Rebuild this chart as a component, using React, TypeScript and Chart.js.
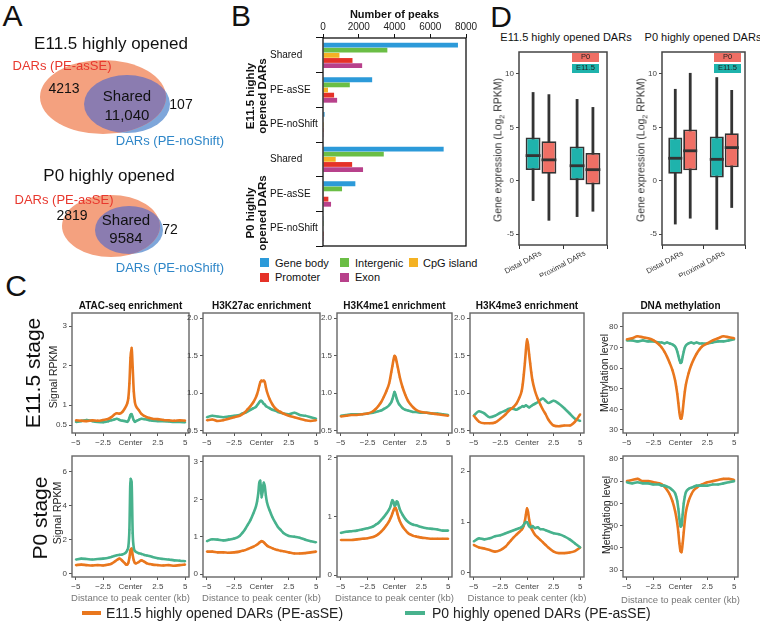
import React, { useEffect, useRef } from "react";
import { Chart, registerables } from "chart.js";
Chart.register(...registerables);

const FONT = "'Liberation Sans', Arial, Helvetica, sans-serif";
Chart.defaults.font.family = FONT;

// ---------------- Panel A data ----------------
const vennE115Counts = [4213, 11040, 107];
const vennP0Counts = [2819, 9584, 72];
const vennTitles = ["E11.5 highly opened", "P0 highly opened"];
const vennSetNames = ["DARs (PE-asSE)", "DARs (PE-noShift)"];

// ---------------- Panel B data ----------------
const bCategories = ["Shared", "PE-asSE", "PE-noShift", "Shared", "PE-asSE", "PE-noShift"];
const bGroups = ["E11.5 highly\nopened DARs", "P0 highly\nopened DARs"];
const bFeatures = ["Gene body", "Intergenic", "CpG island", "Promoter", "Exon"];
const bGeneBody = [7550, 2750, 90, 6750, 1810, 40];
const bIntergenic = [3600, 1500, 25, 3400, 1065, 12];
const bCpG = [920, 280, 6, 710, 15, 0];
const bPromoter = [1650, 620, 12, 1630, 300, 6];
const bExon = [2190, 790, 18, 2240, 450, 9];
const bTicks = [0, 2000, 4000, 6000, 8000];

// ---------------- Panel D data (min, q1, median, q3, max) ----------------
const dCategories = ["Distal DARs", "Proximal DARs"];
const dSeries = ["E11.5", "P0"];
const dE11Dars_E115 = [[-1.9, 1.0, 2.35, 4.05, 8.3], [-3.4, 0.0, 1.4, 3.2, 7.65]];
const dE11Dars_P0 = [[-3.75, 0.65, 1.95, 3.7, 8.1], [-2.9, -0.37, 1.03, 2.6, 6.9]];
const dP0Dars_E115 = [[-4.1, 0.65, 2.1, 4.05, 8.6], [-4.6, 0.3, 2.0, 4.15, 9.7]];
const dP0Dars_P0 = [[-3.55, 0.97, 2.8, 4.8, 10.1], [-2.55, 1.25, 3.1, 4.45, 8.5]];
const dYTicks = [-5, 0, 5, 10];
const dYLabels = ["-5", "0", "5", "10"];

// ---------------- Panel C data ----------------
const X_KB = [-5, -4.5, -4, -3.5, -3, -2.5, -2, -1.75, -1.5, -1.25, -1, -0.75, -0.5, -0.4, -0.3, -0.2, -0.1, 0, 0.1, 0.2, 0.3, 0.4, 0.5, 0.75, 1, 1.25, 1.5, 1.75, 2, 2.5, 3, 3.5, 4, 4.5, 5];
const xTickVals = [-5, -2.5, 0, 2.5, 5];
const xTickLabels = ["\u22125", "\u22122.5", "Center", "2.5", "5"];

const atacE11_orange = [0.62, 0.61, 0.60, 0.62, 0.61, 0.63, 0.66, 0.70, 0.76, 0.80, 0.79, 0.83, 0.93, 0.98, 1.05, 1.18, 1.55, 2.20, 2.45, 1.95, 1.35, 1.08, 0.98, 0.88, 0.78, 0.73, 0.70, 0.68, 0.66, 0.65, 0.63, 0.62, 0.61, 0.62, 0.61];
const atacE11_green = [0.58, 0.60, 0.63, 0.60, 0.58, 0.57, 0.60, 0.62, 0.64, 0.66, 0.63, 0.61, 0.60, 0.59, 0.58, 0.61, 0.68, 0.76, 0.78, 0.70, 0.62, 0.58, 0.60, 0.63, 0.66, 0.65, 0.64, 0.62, 0.61, 0.60, 0.60, 0.59, 0.58, 0.58, 0.57];
const k27E11_orange = [0.64, 0.65, 0.63, 0.64, 0.66, 0.68, 0.70, 0.72, 0.75, 0.79, 0.83, 0.88, 0.95, 0.99, 1.04, 1.10, 1.15, 1.17, 1.16, 1.17, 1.15, 1.08, 1.02, 0.92, 0.85, 0.80, 0.77, 0.75, 0.73, 0.70, 0.68, 0.66, 0.64, 0.63, 0.64];
const k27E11_green = [0.68, 0.70, 0.69, 0.68, 0.69, 0.70, 0.71, 0.73, 0.74, 0.76, 0.78, 0.80, 0.82, 0.84, 0.86, 0.88, 0.90, 0.90, 0.88, 0.86, 0.85, 0.83, 0.82, 0.80, 0.78, 0.77, 0.75, 0.74, 0.73, 0.72, 0.74, 0.71, 0.70, 0.68, 0.66];
const me1E11_orange = [0.69, 0.70, 0.71, 0.71, 0.72, 0.73, 0.76, 0.79, 0.83, 0.88, 0.95, 1.03, 1.13, 1.20, 1.28, 1.36, 1.44, 1.50, 1.48, 1.42, 1.35, 1.28, 1.21, 1.08, 0.98, 0.90, 0.85, 0.81, 0.78, 0.75, 0.74, 0.73, 0.72, 0.71, 0.70];
const me1E11_green = [0.70, 0.71, 0.72, 0.72, 0.72, 0.73, 0.74, 0.75, 0.76, 0.77, 0.79, 0.81, 0.84, 0.86, 0.88, 0.92, 0.97, 1.02, 0.98, 0.93, 0.89, 0.86, 0.84, 0.80, 0.78, 0.77, 0.76, 0.75, 0.75, 0.74, 0.74, 0.73, 0.73, 0.72, 0.71];
const me3E11_orange = [0.70, 0.62, 0.60, 0.60, 0.61, 0.66, 0.72, 0.76, 0.79, 0.82, 0.86, 0.93, 1.03, 1.12, 1.25, 1.40, 1.58, 1.72, 1.65, 1.52, 1.40, 1.28, 1.18, 1.03, 0.93, 0.85, 0.78, 0.72, 0.65, 0.57, 0.56, 0.57, 0.57, 0.62, 0.72];
const me3E11_green = [0.70, 0.76, 0.73, 0.68, 0.70, 0.74, 0.77, 0.79, 0.80, 0.79, 0.78, 0.80, 0.82, 0.83, 0.82, 0.83, 0.84, 0.83, 0.82, 0.81, 0.82, 0.83, 0.84, 0.86, 0.88, 0.91, 0.93, 0.90, 0.87, 0.90, 0.86, 0.80, 0.73, 0.66, 0.63];
const methE11_orange = [74, 74.5, 75.5, 75, 74.5, 73.5, 71.5, 70, 68, 65.5, 62.5, 59, 54, 51, 47.5, 43, 38.5, 35.5, 35.5, 39, 44, 48.5, 52, 57.5, 61.5, 64.5, 67, 69, 70.5, 72, 73.5, 74.5, 75.5, 75, 74.5];
const methE11_green = [73.5, 73.5, 73, 73.5, 73, 73, 72.5, 72.5, 72, 72.5, 72, 71.5, 70.5, 69.5, 68, 66, 64, 62.5, 63, 65.5, 68, 70, 71, 72, 72.5, 72, 72.5, 72, 72, 72, 72.5, 73, 73, 73.5, 74];
const atacP0_orange = [0.52, 0.55, 0.52, 0.50, 0.52, 0.50, 0.55, 0.60, 0.70, 0.82, 0.90, 0.78, 0.62, 0.55, 0.55, 0.65, 0.95, 1.40, 1.50, 1.10, 0.80, 0.65, 0.62, 0.70, 0.80, 0.72, 0.62, 0.58, 0.55, 0.52, 0.50, 0.52, 0.48, 0.52, 0.55];
const atacP0_green = [0.85, 0.90, 0.88, 0.85, 0.88, 0.90, 0.95, 1.00, 1.05, 1.10, 1.12, 1.15, 1.22, 1.28, 1.40, 1.60, 2.60, 5.60, 5.40, 2.40, 1.55, 1.35, 1.30, 1.22, 1.18, 1.12, 1.08, 1.05, 1.00, 0.92, 0.88, 0.85, 0.80, 0.78, 0.75];
const k27P0_orange = [0.60, 0.60, 0.58, 0.58, 0.57, 0.58, 0.60, 0.62, 0.64, 0.67, 0.70, 0.73, 0.77, 0.79, 0.81, 0.84, 0.86, 0.88, 0.87, 0.85, 0.82, 0.79, 0.76, 0.72, 0.69, 0.66, 0.64, 0.62, 0.61, 0.58, 0.55, 0.55, 0.56, 0.58, 0.60];
const k27P0_green = [0.88, 0.93, 0.92, 0.90, 0.92, 0.95, 1.02, 1.10, 1.20, 1.32, 1.45, 1.62, 1.82, 1.95, 2.15, 2.45, 2.50, 2.05, 2.20, 2.45, 2.35, 2.10, 1.92, 1.70, 1.52, 1.38, 1.26, 1.18, 1.10, 1.02, 1.00, 0.97, 0.92, 0.88, 0.85];
const me1P0_orange = [0.60, 0.60, 0.60, 0.61, 0.62, 0.63, 0.65, 0.67, 0.70, 0.74, 0.79, 0.85, 0.92, 0.96, 1.00, 1.05, 1.10, 1.14, 1.15, 1.10, 1.03, 0.97, 0.92, 0.83, 0.77, 0.72, 0.69, 0.67, 0.66, 0.64, 0.63, 0.62, 0.62, 0.62, 0.62];
const me1P0_green = [0.72, 0.74, 0.75, 0.76, 0.78, 0.80, 0.83, 0.86, 0.89, 0.94, 0.99, 1.05, 1.12, 1.16, 1.22, 1.28, 1.25, 1.18, 1.20, 1.26, 1.24, 1.18, 1.12, 1.03, 0.96, 0.91, 0.88, 0.86, 0.85, 0.82, 0.80, 0.79, 0.78, 0.76, 0.76];
const me3P0_orange = [0.55, 0.50, 0.48, 0.45, 0.42, 0.45, 0.52, 0.58, 0.64, 0.70, 0.75, 0.80, 0.85, 0.88, 0.93, 1.02, 1.15, 1.27, 1.20, 1.05, 0.95, 0.88, 0.84, 0.75, 0.70, 0.65, 0.60, 0.55, 0.50, 0.42, 0.39, 0.39, 0.40, 0.43, 0.50];
const me3P0_green = [0.62, 0.68, 0.66, 0.68, 0.72, 0.74, 0.78, 0.80, 0.82, 0.84, 0.86, 0.88, 0.90, 0.92, 0.95, 0.98, 1.00, 1.00, 0.96, 0.92, 0.90, 0.90, 0.92, 0.88, 0.90, 0.86, 0.86, 0.84, 0.82, 0.78, 0.76, 0.72, 0.66, 0.58, 0.50];
const methP0_orange = [70, 70.5, 71, 70, 70, 69.5, 69, 68.5, 67.5, 66, 64, 61, 56.5, 54, 51, 47, 42, 38.5, 38, 42, 47, 52, 56, 61, 64, 66, 67, 68, 68.5, 69.5, 70, 70.5, 71, 71, 70.5];
const methP0_green = [69.5, 69, 69.5, 69, 69, 68.5, 68.5, 68, 68, 67.5, 67, 66, 64.5, 63, 61, 57.5, 53, 49.5, 50, 55, 60, 63, 65, 66.5, 67, 67.5, 68, 68, 68, 68, 68.5, 68.5, 69, 69.5, 70];

const yTicksAtacE11 = [0.5, 1, 2, 3];
const yLabelsAtacE11 = ["0.5", "1", "2", "3"];
const yTicksHistE11 = [0.5, 1, 1.5, 2];
const yLabelsHistE11 = ["0.5", "1.0", "1.5", "2.0"];
const yTicksMeth = [30, 40, 50, 60, 70, 80];
const yLabelsMeth = ["30", "40", "50", "60", "70", "80"];
const yTicksAtacP0 = [0, 2, 4, 6];
const yTicksK27P0 = [0, 1, 2, 3];
const yTicksK4P0 = [0, 1, 2];

const cTitles = ["ATAC-seq enrichment", "H3K27ac enrichment", "H3K4me1 enrichment", "H3K4me3 enrichment", "DNA methylation"];
const legendLabels = ["E11.5 highly opened DARs (PE-asSE)", "P0 highly opened DARs (PE-asSE)"];

// ---------------- styles ----------------
const ORANGE = "#E9771E";
const GREEN = "#48B28D";
const TEAL = "#1FB3AC";
const SALMON = "#EF6F65";
const B_COLORS = ["#2C9AD9", "#6BBE45", "#F4B223", "#E53228", "#B8418B"];

const framePlugin = (color: string, width: number) => ({
  id: "frame",
  afterDraw(chart: any) {
    const a = chart.chartArea;
    const ctx = chart.ctx;
    ctx.save();
    ctx.strokeStyle = color;
    ctx.lineWidth = width;
    ctx.strokeRect(a.left, a.top, a.right - a.left, a.bottom - a.top);
    ctx.restore();
  },
});

function ChartBox({ x, y, w, h, make }: { x: number; y: number; w: number; h: number; make: () => any }) {
  const ref = useRef<HTMLCanvasElement | null>(null);
  useEffect(() => {
    if (!ref.current) return;
    const chart = new Chart(ref.current, make());
    return () => chart.destroy();
  }, []);
  return <canvas ref={ref} width={w} height={h} style={{ position: "absolute", left: x, top: y, width: w, height: h }} />;
}

function Txt(props: { x: number; y: number; s: number; c?: string; b?: boolean; rot?: number; lh?: number; left?: boolean; children: any }) {
  const { x, y, s, c = "#111", b = false, rot = 0, lh = 1, left = false, children } = props;
  return (
    <div
      style={{
        position: "absolute",
        left: x,
        top: y,
        transform: `translate(${left ? "0" : "-50%"},-50%) rotate(${rot}deg)`,
        fontSize: s,
        color: c,
        fontWeight: b ? 700 : 400,
        whiteSpace: "pre",
        lineHeight: lh,
        textAlign: "center",
        fontFamily: FONT,
      }}
    >
      {children}
    </div>
  );
}

const fmtCount = (n: number) => (n >= 10000 ? n.toLocaleString("en-US") : String(n));

// ---------------- chart configs ----------------
function vennCfg() {
  const sets = [
    { o: [103, 97, 63, 37], b: [127, 104, 43, 29] },
    { o: [111, 226, 49, 31], b: [129, 230, 34, 24] },
  ];
  return {
    type: "scatter",
    data: { datasets: [] },
    options: {
      animation: false,
      responsive: false,
      events: [],
      layout: { padding: 0 },
      plugins: { legend: { display: false }, tooltip: { enabled: false } },
      scales: {
        x: { type: "linear", min: 0, max: 235, display: false },
        y: { type: "linear", min: 0, max: 280, reverse: true, display: false },
      },
    },
    plugins: [
      {
        id: "venn",
        afterDraw(chart: any) {
          const ctx = chart.ctx;
          const xs = chart.scales.x;
          const ys = chart.scales.y;
          const path = (e: number[]) => {
            const px = xs.getPixelForValue(e[0]);
            const py = ys.getPixelForValue(e[1]);
            const rx = Math.abs(xs.getPixelForValue(e[0] + e[2]) - px);
            const ry = Math.abs(ys.getPixelForValue(e[1] + e[3]) - py);
            ctx.beginPath();
            ctx.ellipse(px, py, rx, ry, 0, 0, Math.PI * 2);
          };
          sets.forEach((s) => {
            ctx.save();
            path(s.b);
            ctx.fillStyle = "#7EA6DA";
            ctx.fill();
            path(s.o);
            ctx.fillStyle = "#F4A17F";
            ctx.fill();
            path(s.o);
            ctx.clip();
            path(s.b);
            ctx.fillStyle = "#8B7CB0";
            ctx.fill();
            ctx.restore();
          });
        },
      },
    ],
  };
}

function barCfg() {
  const series = [bGeneBody, bIntergenic, bCpG, bPromoter, bExon];
  return {
    type: "bar",
    data: {
      labels: bCategories,
      datasets: series.map((d, i) => ({
        label: bFeatures[i],
        data: d,
        backgroundColor: B_COLORS[i],
        borderWidth: 0,
        categoryPercentage: 0.74,
        barPercentage: 0.94,
      })),
    },
    options: {
      indexAxis: "y",
      animation: false,
      responsive: false,
      events: [],
      layout: { padding: { top: 8, right: 16, bottom: 8, left: 0 } },
      plugins: { legend: { display: false }, tooltip: { enabled: false } },
      scales: {
        x: {
          position: "top",
          min: 0,
          max: 8000,
          afterBuildTicks: (s: any) => {
            s.ticks = bTicks.map((v) => ({ value: v }));
          },
          ticks: { font: { size: 10 }, color: "#222", padding: 1, maxRotation: 0, autoSkip: false, callback: (_v: any, i: number) => String(bTicks[i]) },
          grid: { drawOnChartArea: false, tickLength: 4, color: "#111" },
          border: { display: false },
          title: { display: true, text: "Number of peaks", font: { size: 11, weight: "bold" }, color: "#111", padding: 0 },
          afterFit: (s: any) => {
            s.height = 30;
          },
        },
        y: {
          ticks: { crossAlign: "far", font: { size: 10 }, color: "#111", autoSkip: false },
          grid: { offset: true, drawOnChartArea: false, tickLength: 7, color: "#111" },
          border: { display: false },
          afterFit: (s: any) => {
            s.width = 53;
          },
        },
      },
    },
    plugins: [framePlugin("#111", 1.3)],
  };
}

function boxCfg(e115: number[][], p0: number[][]) {
  const boxes = [e115, p0];
  const cols = [TEAL, SALMON];
  return {
    type: "bar",
    data: {
      labels: dCategories,
      datasets: boxes.map((b, i) => ({
        label: dSeries[i],
        data: b.map((s) => [s[1], s[3]]),
        backgroundColor: cols[i],
        borderColor: "#333",
        borderWidth: 1.8,
        borderSkipped: false,
        categoryPercentage: 0.72,
        barPercentage: 0.94,
      })),
    },
    options: {
      animation: false,
      responsive: false,
      events: [],
      layout: { padding: { top: 8, right: 8, bottom: 0, left: 0 } },
      plugins: { legend: { display: false }, tooltip: { enabled: false } },
      scales: {
        x: {
          ticks: { font: { size: 7.5 }, color: "#333", minRotation: 28, maxRotation: 28, padding: 0, autoSkip: false },
          grid: { offset: true, drawOnChartArea: false, tickLength: 4, color: "#333" },
          border: { display: false },
          afterFit: (s: any) => {
            s.height = 32;
          },
        },
        y: {
          min: -6.03,
          max: 12.06,
          afterBuildTicks: (s: any) => {
            s.ticks = dYTicks.map((v) => ({ value: v }));
          },
          ticks: { font: { size: 8 }, color: "#444", padding: 2, callback: (_v: any, i: number) => dYLabels[i] },
          grid: { drawOnChartArea: false, tickLength: 3, color: "#444" },
          border: { display: false },
          afterFit: (s: any) => {
            s.width = 26;
          },
        },
      },
    },
    plugins: [
      {
        id: "whiskers",
        beforeDatasetsDraw(chart: any) {
          const ctx = chart.ctx;
          const ys = chart.scales.y;
          ctx.save();
          ctx.strokeStyle = "#333";
          ctx.lineWidth = 2.8;
          boxes.forEach((b, di) => {
            chart.getDatasetMeta(di).data.forEach((el: any, i: number) => {
              ctx.beginPath();
              ctx.moveTo(el.x, ys.getPixelForValue(b[i][0]));
              ctx.lineTo(el.x, ys.getPixelForValue(b[i][4]));
              ctx.stroke();
            });
          });
          ctx.restore();
        },
        afterDatasetsDraw(chart: any) {
          const ctx = chart.ctx;
          const ys = chart.scales.y;
          ctx.save();
          ctx.strokeStyle = "#333";
          ctx.lineWidth = 2.8;
          boxes.forEach((b, di) => {
            chart.getDatasetMeta(di).data.forEach((el: any, i: number) => {
              const py = ys.getPixelForValue(b[i][2]);
              ctx.beginPath();
              ctx.moveTo(el.x - el.width / 2, py);
              ctx.lineTo(el.x + el.width / 2, py);
              ctx.stroke();
            });
          });
          ctx.restore();
        },
      },
      framePlugin("#444", 1.5),
    ],
  };
}

function lineCfg(orange: number[], green: number[], yMin: number, yMax: number, yTicks: number[], yLabels: string[], greenOnTop: boolean) {
  const ds = (arr: number[], color: string) => ({
    data: X_KB.map((x, i) => ({ x, y: arr[i] })),
    borderColor: color,
    backgroundColor: color,
    borderWidth: 2.6,
    pointRadius: 1.1,
    pointBorderWidth: 0,
    cubicInterpolationMode: "monotone",
    fill: false,
  });
  const o = ds(orange, ORANGE);
  const g = ds(green, GREEN);
  return {
    type: "line",
    data: { datasets: greenOnTop ? [g, o] : [o, g] },
    options: {
      animation: false,
      responsive: false,
      events: [],
      layout: { padding: { top: 8, right: 8, bottom: 0, left: 0 } },
      plugins: { legend: { display: false }, tooltip: { enabled: false } },
      scales: {
        x: {
          type: "linear",
          min: -5.35,
          max: 5.35,
          afterBuildTicks: (s: any) => {
            s.ticks = xTickVals.map((v) => ({ value: v }));
          },
          ticks: { autoSkip: false, maxRotation: 0, font: { size: 8 }, color: "#444", padding: 2, callback: (_v: any, i: number) => xTickLabels[i] },
          grid: { drawOnChartArea: false, tickLength: 3, color: "#555" },
          border: { display: false },
          afterFit: (s: any) => {
            s.height = 18;
          },
        },
        y: {
          type: "linear",
          min: yMin,
          max: yMax,
          afterBuildTicks: (s: any) => {
            s.ticks = yTicks.map((v) => ({ value: v }));
          },
          ticks: { autoSkip: false, font: { size: 8 }, color: "#444", padding: 2, callback: (_v: any, i: number) => yLabels[i] },
          grid: { drawOnChartArea: false, tickLength: 3, color: "#555" },
          border: { display: false },
          afterFit: (s: any) => {
            s.width = 26;
          },
        },
      },
    },
    plugins: [framePlugin("#666", 1.4)],
  };
}

// ---------------- layout ----------------
const COLS = [[72, 189], [203, 320], [337, 452], [470, 584], [623, 738]];
const ROWS = [[313, 433], [456, 577]];

export default function App() {
  const panels = [
    { r: 0, c: 0, o: atacE11_orange, g: atacE11_green, y0: 0.3, y1: 3.33, t: yTicksAtacE11, l: yLabelsAtacE11, top: false },
    { r: 0, c: 1, o: k27E11_orange, g: k27E11_green, y0: 0.47, y1: 2.07, t: yTicksHistE11, l: yLabelsHistE11, top: false },
    { r: 0, c: 2, o: me1E11_orange, g: me1E11_green, y0: 0.47, y1: 2.07, t: yTicksHistE11, l: yLabelsHistE11, top: false },
    { r: 0, c: 3, o: me3E11_orange, g: me3E11_green, y0: 0.47, y1: 2.07, t: yTicksHistE11, l: yLabelsHistE11, top: false },
    { r: 0, c: 4, o: methE11_orange, g: methE11_green, y0: 28.5, y1: 86.8, t: yTicksMeth, l: yLabelsMeth, top: false },
    { r: 1, c: 0, o: atacP0_orange, g: atacP0_green, y0: -0.18, y1: 6.94, t: yTicksAtacP0, l: yTicksAtacP0.map(String), top: true },
    { r: 1, c: 1, o: k27P0_orange, g: k27P0_green, y0: -0.08, y1: 3.16, t: yTicksK27P0, l: yTicksK27P0.map(String), top: true },
    { r: 1, c: 2, o: me1P0_orange, g: me1P0_green, y0: -0.03, y1: 2.03, t: yTicksK4P0, l: yTicksK4P0.map(String), top: true },
    { r: 1, c: 3, o: me3P0_orange, g: me3P0_green, y0: -0.08, y1: 2.3, t: yTicksK4P0, l: yTicksK4P0.map(String), top: true },
    { r: 1, c: 4, o: methP0_orange, g: methP0_green, y0: 26.9, y1: 81.3, t: yTicksMeth, l: yLabelsMeth, top: true },
  ];
  const colCenter = (c: number) => (COLS[c][0] + COLS[c][1]) / 2;
  const legendRowsB = [
    { i: 0, sx: 260, tx: 275, y: 262.5 },
    { i: 1, sx: 340, tx: 355, y: 262.5 },
    { i: 2, sx: 409, tx: 423, y: 262.5 },
    { i: 3, sx: 260, tx: 275, y: 277 },
    { i: 4, sx: 340, tx: 355, y: 277 },
  ];
  return (
    <div style={{ position: "absolute", left: 0, top: 0, width: 760, height: 622, overflow: "hidden", background: "#fff", fontFamily: FONT }}>
      {/* panel letters */}
      <Txt x={12.5} y={16} s={30}>A</Txt>
      <Txt x={241} y={16} s={30}>B</Txt>
      <Txt x={501} y={17} s={30}>D</Txt>
      <Txt x={16} y={286} s={30}>C</Txt>

      {/* Panel A */}
      <ChartBox x={0} y={0} w={235} h={280} make={vennCfg} />
      <Txt x={111} y={43} s={17}>{vennTitles[0]}</Txt>
      <Txt x={62} y={65} s={13} c="#E8382E">{vennSetNames[0]}</Txt>
      <Txt x={64} y={88} s={14}>{fmtCount(vennE115Counts[0])}</Txt>
      <Txt x={127} y={106} s={15} lh={1.25}>{"Shared\n" + fmtCount(vennE115Counts[1])}</Txt>
      <Txt x={181} y={104} s={14}>{fmtCount(vennE115Counts[2])}</Txt>
      <Txt x={170} y={140} s={13} c="#2E86C8">{vennSetNames[1]}</Txt>
      <Txt x={109} y={175} s={17}>{vennTitles[1]}</Txt>
      <Txt x={64} y={199} s={13} c="#E8382E">{vennSetNames[0]}</Txt>
      <Txt x={72} y={215} s={14}>{fmtCount(vennP0Counts[0])}</Txt>
      <Txt x={126} y={229.5} s={15} lh={1.25}>{"Shared\n" + fmtCount(vennP0Counts[1])}</Txt>
      <Txt x={170} y={229} s={14}>{fmtCount(vennP0Counts[2])}</Txt>
      <Txt x={170} y={267} s={13} c="#2E86C8">{vennSetNames[1]}</Txt>

      {/* Panel B */}
      <ChartBox x={270} y={0} w={212} h={255} make={barCfg} />
      <Txt x={256} y={96} s={11.5} b rot={-90} lh={1.05}>{bGroups[0]}</Txt>
      <Txt x={256} y={213} s={11.5} b rot={-90} lh={1.05}>{bGroups[1]}</Txt>
      {legendRowsB.map((it) => (
        <React.Fragment key={it.i}>
          <div style={{ position: "absolute", left: it.sx, top: it.y - 4.5, width: 9, height: 9, background: B_COLORS[it.i] }} />
          <Txt x={it.tx} y={it.y} s={11} left>{bFeatures[it.i]}</Txt>
        </React.Fragment>
      ))}

      {/* Panel D */}
      <Txt x={566} y={37} s={11}>E11.5 highly opened DARs</Txt>
      <Txt x={703} y={37} s={11}>P0 highly opened DARs</Txt>
      <ChartBox x={493} y={44} w={122} h={233} make={() => boxCfg(dE11Dars_E115, dE11Dars_P0)} />
      <ChartBox x={636} y={44} w={117} h={233} make={() => boxCfg(dP0Dars_E115, dP0Dars_P0)} />
      {[499, 642].map((x) => (
        <Txt key={x} x={x} y={150} s={10.5} c="#333" rot={-90}>
          <span>Gene expression (Log</span>
          <sub style={{ fontSize: 7 }}>2</sub>
          <span> RPKM)</span>
        </Txt>
      ))}
      {[572, 714].map((x) => (
        <React.Fragment key={x}>
          <div style={{ position: "absolute", left: x, top: 53, width: 27, height: 8.5, background: SALMON, fontSize: 7.5, lineHeight: "8.5px", textAlign: "center", color: "#222" }}>{dSeries[1]}</div>
          <div style={{ position: "absolute", left: x, top: 64, width: 27, height: 8.5, background: TEAL, fontSize: 7.5, lineHeight: "8.5px", textAlign: "center", color: "#222" }}>{dSeries[0]}</div>
        </React.Fragment>
      ))}

      {/* Panel C */}
      {cTitles.map((t, c) => (
        <Txt key={t} x={colCenter(c)} y={306} s={10} b>{t}</Txt>
      ))}
      {panels.map((p, k) => {
        const [fl, fr] = COLS[p.c];
        const [ft, fb] = ROWS[p.r];
        return (
          <ChartBox
            key={k}
            x={fl - 26}
            y={ft - 8}
            w={fr - fl + 34}
            h={fb - ft + 26}
            make={() => lineCfg(p.o, p.g, p.y0, p.y1, p.t, p.l, p.top)}
          />
        );
      })}
      <Txt x={32} y={373} s={21} rot={-90}>E11.5 stage</Txt>
      <Txt x={38.5} y={518} s={21} rot={-90}>P0 stage</Txt>
      <Txt x={53} y={377} s={10.5} c="#222" rot={-90}>Signal RPKM</Txt>
      <Txt x={57} y={513} s={10.5} c="#222" rot={-90}>Signal RPKM</Txt>
      <Txt x={604} y={373} s={10.5} c="#222" rot={-90}>Methylation level</Txt>
      <Txt x={606} y={515} s={10.5} c="#222" rot={-90}>Methylation level</Txt>
      {COLS.map((_, c) => (
        <Txt key={c} x={colCenter(c)} y={c === 4 ? 600 : 598} s={9.5} c="#777">Distance to peak center (kb)</Txt>
      ))}
      <div style={{ position: "absolute", left: 82, top: 611, width: 19, height: 4, background: ORANGE }} />
      <Txt x={106} y={613} s={14} c="#222" left>{legendLabels[0]}</Txt>
      <div style={{ position: "absolute", left: 405, top: 611, width: 20, height: 4, background: GREEN }} />
      <Txt x={432} y={613} s={14} c="#222" left>{legendLabels[1]}</Txt>
    </div>
  );
}
